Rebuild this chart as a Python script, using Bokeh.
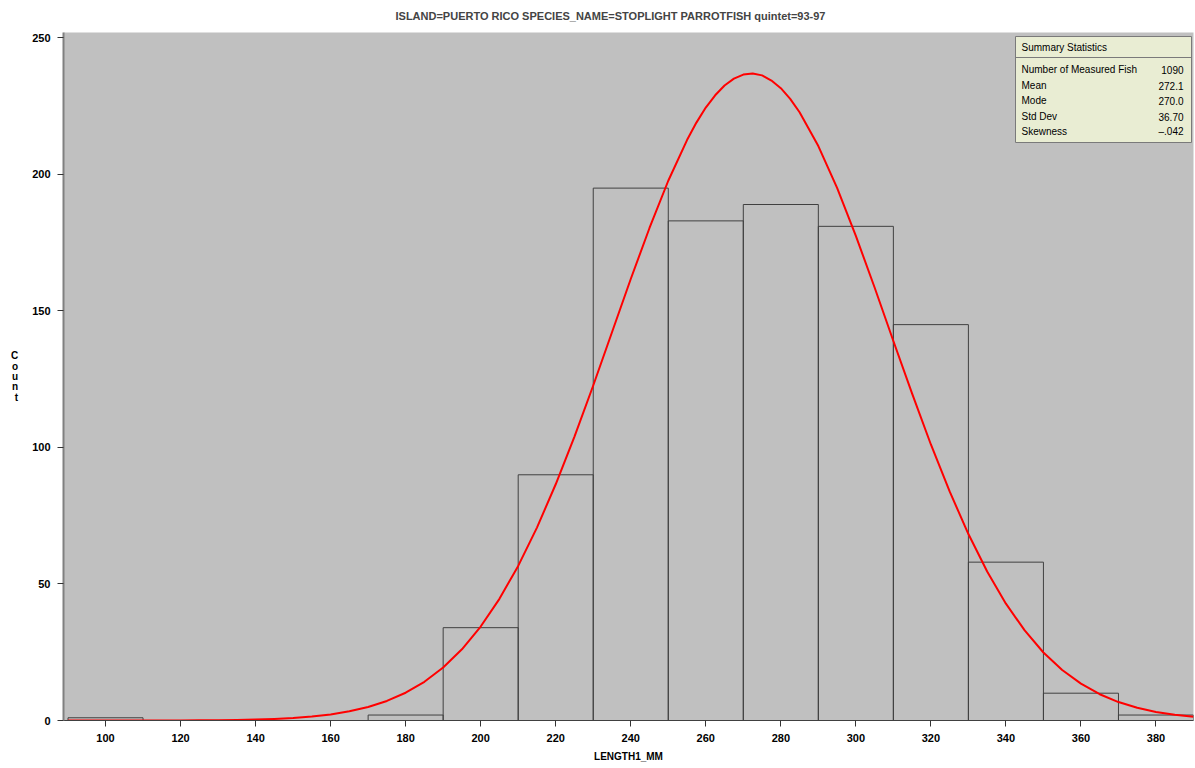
from bokeh.plotting import figure
from bokeh.models import Range1d, FixedTicker, ColumnDataSource
from bokeh.core.properties import value
from bokeh.embed import file_html
from bokeh.resources import INLINE

# ---------------- data ----------------
title_text = "ISLAND=PUERTO RICO SPECIES_NAME=STOPLIGHT PARROTFISH quintet=93-97"
x_label = "LENGTH1_MM"
y_label = "Count"
bin_left = [90, 110, 130, 150, 170, 190, 210, 230, 250, 270, 290, 310, 330, 350, 370]
bin_right = [110, 130, 150, 170, 190, 210, 230, 250, 270, 290, 310, 330, 350, 370, 390]
counts = [1, 0, 0, 0, 2, 34, 90, 195, 183, 189, 181, 145, 58, 10, 2]

curve_x = [90, 95, 100, 105, 110, 115, 120, 125, 130, 135,
           140, 145, 150, 155, 160, 165, 170, 175, 180, 185,
           190, 195, 200, 205, 210, 215, 220, 225, 230, 235,
           240, 245, 250, 255, 257.5, 260, 262.5, 265, 267.5, 270, 272.5,
           275, 277.5, 280, 282.5, 285,
           290, 295, 300, 305, 310, 315, 320, 325, 330, 335,
           340, 345, 350, 355, 360, 365, 370, 375, 380, 385, 390]
curve_y = [0.001, 0.002, 0.004, 0.008, 0.014, 0.025, 0.044, 0.077, 0.13, 0.22,
           0.36, 0.59, 0.94, 1.46, 2.23, 3.36, 4.95, 7.16, 10.17, 14.18,
           19.41, 26.09, 34.41, 44.56, 56.62, 70.65, 86.53, 104.0, 122.7, 142.2,
           161.7, 180.4, 197.7, 212.6, 219.0, 224.5, 229.0, 232.6, 235.1, 236.6, 237.0,
           236.3, 234.4, 231.6, 227.7, 222.8,
           210.4, 195.1, 177.5, 158.6, 139.0, 119.7, 101.1, 83.9, 68.3, 54.6,
           42.8, 33.0, 24.9, 18.5, 13.5, 9.62, 6.75, 4.65, 3.15, 2.09, 1.36]

x_ticks = [100, 120, 140, 160, 180, 200, 220, 240, 260, 280, 300, 320, 340, 360, 380]
y_ticks = [0, 50, 100, 150, 200, 250]

stats_title = "Summary Statistics"
stats_names = ["Number of Measured Fish", "Mean", "Mode", "Std Dev", "Skewness"]
stats_values = ["1090", "272.1", "270.0", "36.70", "\u2013.042"]

# ---------------- figure ----------------
X0, X1 = 88.8, 390.0
Y0, Y1 = 0.0, 252.0
W, H = 1195, 768
BL, BR, BT, BB = 63, 2, 32, 48
FW = W - BL - BR
FH = H - BT - BB

p = figure(width=W, height=H, output_backend="svg", toolbar_location=None,
           x_range=Range1d(X0, X1), y_range=Range1d(Y0, Y1),
           min_border_left=BL, min_border_right=BR, min_border_top=BT,
           min_border_bottom=BB)
p.background_fill_color = "#C0C0C0"
p.border_fill_color = "white"
p.outline_line_color = None
p.grid.visible = False

p.title.text = title_text
p.title.align = "left"
p.title.offset = 332
p.title.vertical_align = "top"
p.title.text_font = "Liberation Sans"
p.title.text_font_size = "11px"
p.title.text_font_style = "bold"
p.title.standoff = 17

for ax in (p.xaxis[0], p.yaxis[0]):
    ax.major_label_text_font = "Liberation Sans"
    ax.major_label_text_font_size = "11px"
    ax.major_label_text_font_style = "bold"
    ax.major_label_text_color = "black"
    ax.axis_label_text_font = "Liberation Sans"
    ax.axis_label_text_font_size = "10px"
    ax.axis_label_text_font_style = "bold"
    ax.axis_label_text_color = "black"
    ax.minor_tick_line_color = None
    ax.major_tick_in = 0
    ax.major_tick_out = 6
    ax.major_tick_line_color = "#333333"

p.xaxis.ticker = FixedTicker(ticks=x_ticks)
p.yaxis.ticker = FixedTicker(ticks=y_ticks)
p.xaxis.axis_label = x_label
p.xaxis.axis_line_color = "#404040"
p.xaxis.major_label_standoff = 7
p.xaxis.axis_label_standoff = 6
p.yaxis.axis_label = "\n".join(y_label)
p.yaxis.axis_label_orientation = "horizontal"
p.yaxis.axis_label_text_line_height = 0.95
p.yaxis.axis_line_color = "#808080"
p.yaxis.axis_line_width = 2
p.yaxis.major_label_standoff = 7
p.yaxis.axis_label_standoff = 11

# histogram bars
src = ColumnDataSource(dict(left=bin_left, right=bin_right, top=counts,
                            bottom=[0] * len(counts)))
p.quad(left="left", right="right", top="top", bottom="bottom", source=src,
       fill_color=None, line_color="#404040", line_width=1)

# fitted normal curve
p.line(curve_x, curve_y, line_color="#FF0000", line_width=2, line_join="round")

# ---------------- summary statistics box ----------------
def dx(px):  # pixel offset from frame left -> data x
    return X0 + (X1 - X0) * px / FW

def dy(px):  # pixel offset from frame top -> data y
    return Y1 - (Y1 - Y0) * px / FH

box_l, box_r = FW - 178, FW - 2
box_t, box_b = 4, 110
p.quad(left=[dx(box_l)], right=[dx(box_r)], top=[dy(box_t)], bottom=[dy(box_b)],
       fill_color="#E9EDD3", line_color="#7a7a7a", line_width=1)
p.segment(x0=[dx(box_l)], x1=[dx(box_r)], y0=[dy(25)], y1=[dy(25)],
          line_color="#7a7a7a", line_width=1)

p.text(x=[dx(box_l + 6)], y=[dy(15)], text=[stats_title],
       text_font=value("Liberation Sans"), text_font_size="10px",
       text_color="black", text_baseline="middle", text_align="left")

row_px = [37, 53, 68, 84, 99]
p.text(x=[dx(box_l + 6)] * len(stats_names), y=[dy(r) for r in row_px], text=stats_names,
       text_font=value("Liberation Sans"), text_font_size="10px",
       text_color="black", text_baseline="middle", text_align="left")
p.text(x=[dx(box_r - 8)] * len(stats_values), y=[dy(r) for r in row_px], text=stats_values,
       text_font=value("Liberation Sans"), text_font_size="10px",
       text_color="black", text_baseline="middle", text_align="right")

open("out.html", "w").write(file_html(p, INLINE))
